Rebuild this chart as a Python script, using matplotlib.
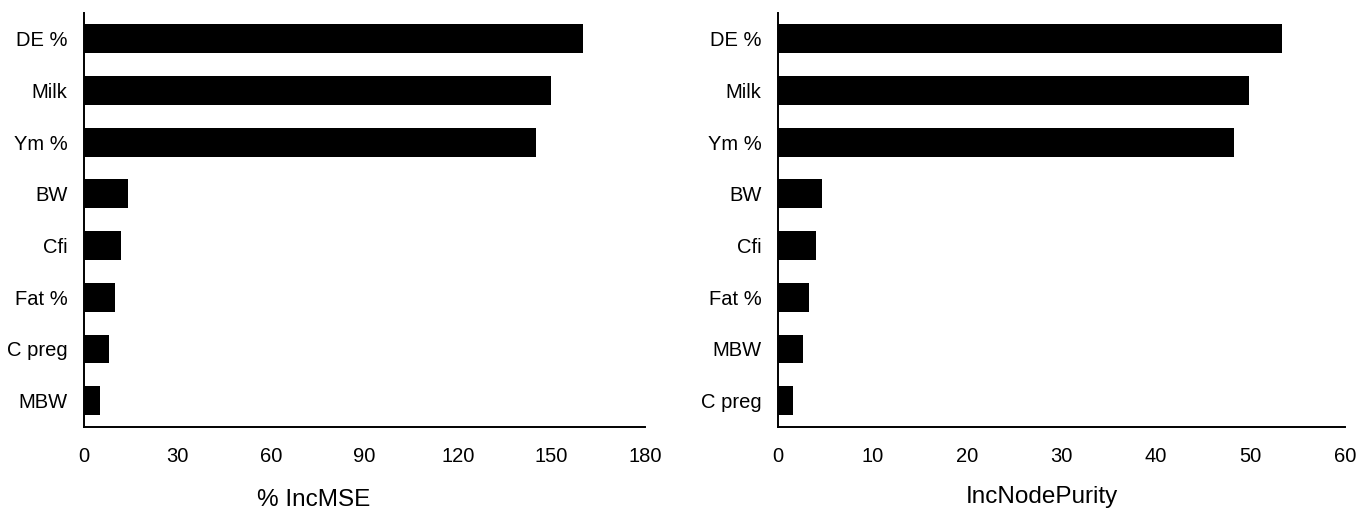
import matplotlib
matplotlib.use('Agg')
from matplotlib import pyplot as plt
import numpy as np

plt.rcParams['font.family'] = ['Liberation Sans', 'DejaVu Sans']

# variable importance from the random forest, top to bottom
mse_vars = ['DE %', 'Milk', 'Ym %', 'BW', 'Cfi', 'Fat %', 'C preg', 'MBW']
mse_vals = [160, 150, 145, 14, 12, 10, 8, 5]

purity_vars = ['DE %', 'Milk', 'Ym %', 'BW', 'Cfi', 'Fat %', 'MBW', 'C preg']
purity_vals = [53.3, 49.9, 48.3, 4.7, 4.0, 3.3, 2.6, 1.6]

mse_ticks = [0, 30, 60, 90, 120, 150, 180]
purity_ticks = [0, 10, 20, 30, 40, 50, 60]


def importance_panel(ax, names, vals, ticks, xlabel, label_x, label_y):
    pos = np.arange(len(names))
    ax.barh(pos, vals, height=0.56, color='black')
    ax.set_yticks(pos)
    ax.set_yticklabels(names)
    ax.set_ylim(len(names) - 0.5, -0.5)
    ax.set_xticks(ticks)
    ax.set_xlim(ticks[0], ticks[-1])
    ax.tick_params(axis='both', length=0, labelsize=14.5)
    ax.tick_params(axis='y', pad=12)
    ax.tick_params(axis='x', pad=15)
    for side in ['top', 'right']:
        ax.spines[side].set_visible(False)
    for side in ['left', 'bottom']:
        ax.spines[side].set_linewidth(1.4)
    ax.set_xlabel(xlabel, fontsize=17.5)
    ax.xaxis.set_label_coords(label_x, label_y)


fig = plt.figure(figsize=(13.57, 5.15), dpi=100)
ax1 = fig.add_axes([0.0619, 0.1718, 0.4134, 0.8029])
ax2 = fig.add_axes([0.5733, 0.1718, 0.4178, 0.8029])

importance_panel(ax1, mse_vars, mse_vals, mse_ticks, '% IncMSE', 0.41, -0.15)
importance_panel(ax2, purity_vars, purity_vals, purity_ticks, 'IncNodePurity', 0.466, -0.145)

fig.savefig('out.png', dpi=100)
